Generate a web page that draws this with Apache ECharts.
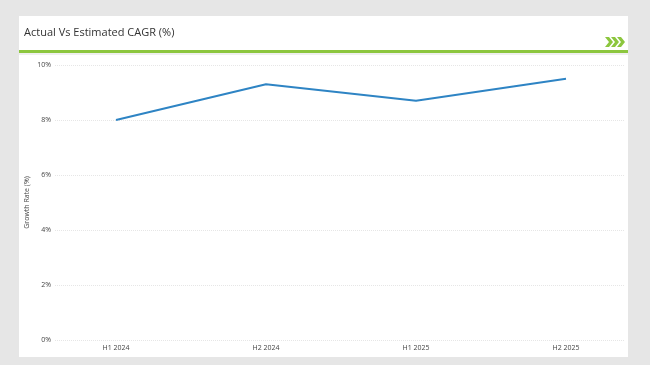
<!DOCTYPE html>
<html><head><meta charset="utf-8">
<script src="https://cdn.jsdelivr.net/npm/echarts@6/dist/echarts.min.js"></script>
<style>html,body{margin:0;padding:0;background:#e6e6e6}#c{width:650px;height:365px}</style>
</head><body><div id="c"></div>
<script>
var categories = ['H1 2024', 'H2 2024', 'H1 2025', 'H2 2025'];
var growthRate = [8.0, 9.3, 8.7, 9.5];
var yTicks = { min: 0, max: 10, interval: 2 };
var titleText = 'Actual Vs Estimated CAGR (%)';
var yName = 'Growth Rate (%)';

var font = '"Open Sans", "Liberation Sans", sans-serif';
var chart = echarts.init(document.getElementById('c'), null, { renderer: 'canvas' });
var green = '#8cc63e';
function chevron(x) {
  return { type: 'polygon', shape: { points: [[x,37],[x+4,37],[x+8,42],[x+4,47],[x,47],[x+4,42]] }, style: { fill: green }, z: 10 };
}
chart.setOption({
  backgroundColor: '#e6e6e6',
  graphic: [
    { type: 'rect', shape: { x: 19, y: 16, width: 609, height: 341 }, style: { fill: '#ffffff' }, z: -10 },
    { type: 'rect', shape: { x: 19, y: 50, width: 609, height: 3 }, style: { fill: green }, z: 5 },
    { type: 'rect', shape: { x: 19, y: 53, width: 609, height: 2 }, style: { fill: '#efefef' }, z: 5 },
    chevron(605), chevron(611), chevron(617)
  ],
  title: {
    text: titleText, left: 19, top: 22,
    textStyle: { fontSize: 11, fontWeight: 'normal', color: '#333', fontFamily: font }
  },
  grid: [
    { left: 55, right: 25, top: 65, bottom: 25 },
    { left: 41, width: 600, top: 65, bottom: 25 }
  ],
  xAxis: [
    { gridIndex: 0, type: 'category', data: categories, show: false },
    { gridIndex: 1, type: 'category', data: categories, boundaryGap: true,
      axisLine: { show: false }, axisTick: { show: false },
      axisLabel: { fontSize: 7, color: '#444', margin: 4, fontFamily: font } }
  ],
  yAxis: [
    { gridIndex: 0, type: 'value', min: yTicks.min, max: yTicks.max, interval: yTicks.interval,
      name: yName, nameLocation: 'middle', nameGap: 25, nameRotate: 90, nameMoveOverlap: false,
      nameTextStyle: { fontSize: 7, color: '#444', fontFamily: font },
      axisLine: { show: false }, axisTick: { show: false },
      axisLabel: { formatter: '{value}%', fontSize: 7, color: '#444', margin: 4, fontFamily: font },
      splitLine: { lineStyle: { color: '#e6e6e6', type: 'dotted', width: 1 } } },
    { gridIndex: 1, type: 'value', min: yTicks.min, max: yTicks.max, interval: yTicks.interval, show: false,
      splitLine: { show: false } }
  ],
  series: [{
    type: 'line', xAxisIndex: 1, yAxisIndex: 1, data: growthRate,
    symbol: 'none', lineStyle: { color: '#2e84c4', width: 2 }, animation: false
  }],
  animation: false
});
</script></body></html>
